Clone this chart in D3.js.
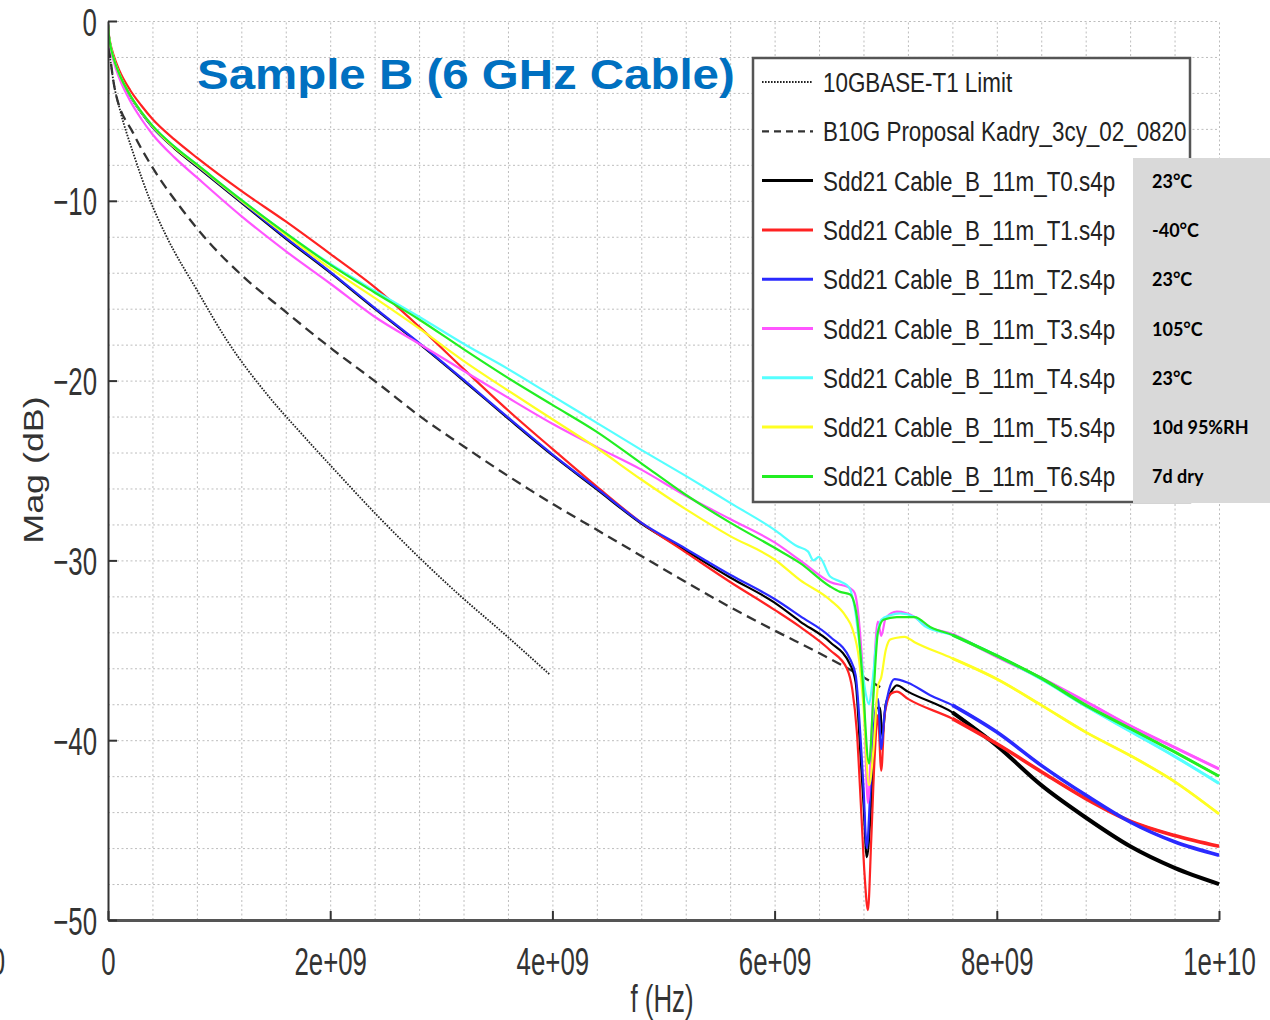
<!DOCTYPE html>
<html>
<head>
<meta charset="utf-8">
<script src="https://cdn.jsdelivr.net/npm/d3@7"></script>
<style>
  body { margin: 0; background: #fff; }
  svg { display: block; font-family: "Liberation Sans", Arial, sans-serif; }
</style>
</head>
<body>
<svg width="1270" height="1020"></svg>
<script>
// frequencies in GHz, magnitudes in dB
var limitT1 = [[0.01,-1.6],[0.05,-3.4],[0.108,-4.95],[0.228,-7.36],[0.378,-9.96],[0.528,-12.0],[0.8,-14.96],[1.068,-17.74],[1.46,-20.98],[1.728,-22.86],[2.0,-24.7],[2.448,-27.66],[2.808,-29.88],[3.18,-32.02],[3.56,-34.05],[3.98,-36.37]];

var proposalB10G = [[0.01,-1.5],[0.063,-3.84],[0.228,-6.25],[0.378,-7.92],[0.648,-10.33],[0.918,-12.37],[1.218,-14.22],[1.578,-16.07],[2.028,-18.3],[2.448,-20.24],[2.8,-21.95],[3.2,-23.65],[3.6,-25.3],[4.0,-26.85],[4.4,-28.3],[4.8,-29.75],[5.2,-31.2],[5.6,-32.6],[6.0,-33.9],[6.4,-35.15],[6.8,-36.5],[6.95,-37.05]];

var cableT0 = [[0,-0.2],[0.005,-0.66],[0.02,-1.32],[0.05,-2.08],[0.1,-2.95],[0.2,-4.17],[0.3,-5.1],[0.4,-5.9],[0.6,-7.1],[0.8,-8.1],[1.2,-10.1],[1.6,-12.1],[2.0,-14.0],[2.4,-16.0],[2.8,-17.95],[3.2,-20.0],[3.6,-22.1],[4.0,-24.15],[4.4,-26.05],[4.8,-27.95],[5.2,-29.45],[5.6,-30.95],[6.0,-32.35],[6.23,-33.4],[6.5,-34.55],[6.68,-35.8],[6.73,-36.8],[6.77,-40.5],[6.8,-43.5],[6.83,-46.5],[6.86,-44.5],[6.89,-40.5],[6.92,-38.2],[6.95,-38.2],[6.97,-39.8],[7.0,-38.0],[7.05,-37.3],[7.1,-36.95],[7.2,-37.3],[7.6,-38.45],[8.0,-40.3],[8.4,-42.5],[8.8,-44.3],[9.2,-45.9],[9.6,-47.1],[10.0,-48.0]];

var cableT1 = [[0,-0.2],[0.005,-0.6],[0.02,-1.2],[0.05,-1.9],[0.1,-2.72],[0.2,-3.85],[0.3,-4.7],[0.4,-5.45],[0.6,-6.6],[0.8,-7.6],[1.2,-9.45],[1.6,-11.15],[2.0,-12.95],[2.4,-14.8],[2.8,-17.0],[3.2,-19.35],[3.6,-21.65],[4.0,-23.8],[4.4,-25.9],[4.8,-27.9],[5.2,-29.55],[5.6,-31.2],[6.0,-32.75],[6.23,-33.7],[6.5,-35.0],[6.65,-36.0],[6.7,-37.2],[6.74,-39.5],[6.78,-44.0],[6.81,-47.5],[6.84,-49.45],[6.87,-45.5],[6.9,-41.0],[6.93,-38.6],[6.96,-41.7],[6.99,-38.6],[7.05,-37.4],[7.1,-37.3],[7.2,-37.7],[7.6,-38.8],[8.0,-40.2],[8.4,-41.75],[8.8,-43.25],[9.2,-44.5],[9.6,-45.3],[10.0,-45.9]];

var cableT2 = [[0,-0.2],[0.005,-0.66],[0.02,-1.32],[0.05,-2.08],[0.1,-2.95],[0.2,-4.17],[0.3,-5.1],[0.4,-5.9],[0.6,-7.05],[0.8,-8.05],[1.2,-10.05],[1.6,-12.05],[2.0,-13.95],[2.4,-15.95],[2.8,-17.9],[3.2,-19.95],[3.6,-22.05],[4.0,-24.1],[4.4,-26.0],[4.8,-27.9],[5.2,-29.35],[5.6,-30.8],[6.0,-32.15],[6.23,-33.1],[6.5,-34.25],[6.68,-35.5],[6.73,-36.4],[6.77,-39.5],[6.8,-42.6],[6.83,-46.0],[6.86,-43.0],[6.89,-39.5],[6.93,-37.7],[6.96,-40.5],[6.99,-38.5],[7.03,-37.2],[7.08,-36.6],[7.2,-36.8],[7.4,-37.5],[7.6,-38.05],[8.0,-39.55],[8.4,-41.4],[8.8,-43.05],[9.2,-44.55],[9.6,-45.65],[10.0,-46.4]];

var cableT3 = [[0,-0.2],[0.005,-0.7],[0.02,-1.41],[0.05,-2.23],[0.1,-3.15],[0.2,-4.45],[0.3,-5.45],[0.4,-6.3],[0.6,-7.6],[0.8,-8.7],[1.2,-10.85],[1.6,-12.8],[2.0,-14.6],[2.4,-16.45],[2.8,-17.95],[3.2,-19.45],[3.6,-20.95],[4.0,-22.4],[4.4,-23.7],[4.8,-24.95],[5.2,-26.4],[5.6,-27.7],[6.0,-29.0],[6.23,-30.0],[6.5,-31.2],[6.68,-31.55],[6.72,-31.8],[6.76,-33.4],[6.8,-37.0],[6.84,-43.5],[6.87,-40.0],[6.9,-35.5],[6.93,-33.4],[6.96,-34.2],[7.0,-33.2],[7.1,-32.85],[7.26,-33.15],[7.35,-33.6],[7.6,-34.1],[8.0,-35.35],[8.4,-36.55],[8.8,-37.85],[9.2,-39.2],[9.6,-40.4],[10.0,-41.6]];

var cableT4 = [[0,-0.2],[0.005,-0.65],[0.02,-1.3],[0.05,-2.06],[0.1,-2.92],[0.2,-4.13],[0.3,-5.05],[0.4,-5.82],[0.6,-7.0],[0.8,-7.98],[1.2,-9.95],[1.6,-11.8],[2.0,-13.5],[2.4,-15.0],[2.8,-16.45],[3.2,-17.95],[3.6,-19.35],[4.0,-20.85],[4.4,-22.35],[4.8,-23.85],[5.2,-25.3],[5.6,-26.8],[6.0,-28.3],[6.2,-29.2],[6.3,-29.5],[6.35,-30.0],[6.4,-29.8],[6.5,-30.9],[6.6,-31.2],[6.67,-31.5],[6.72,-32.6],[6.77,-35.0],[6.82,-37.4],[6.85,-38.0],[6.88,-36.8],[6.92,-34.3],[6.96,-33.3],[7.04,-33.05],[7.13,-32.95],[7.26,-33.15],[7.35,-33.65],[7.6,-34.15],[8.0,-35.3],[8.4,-36.6],[8.8,-38.1],[9.2,-39.5],[9.6,-40.9],[10.0,-42.4]];

var cableT5 = [[0,-0.2],[0.005,-0.65],[0.02,-1.3],[0.05,-2.06],[0.1,-2.92],[0.2,-4.14],[0.3,-5.07],[0.4,-5.85],[0.6,-7.05],[0.8,-8.02],[1.2,-10.0],[1.6,-11.9],[2.0,-13.75],[2.4,-15.4],[2.8,-17.1],[3.2,-18.9],[3.6,-20.55],[4.0,-22.15],[4.4,-23.75],[4.8,-25.5],[5.2,-27.15],[5.6,-28.65],[6.0,-29.95],[6.23,-31.1],[6.5,-32.2],[6.64,-33.1],[6.7,-33.8],[6.76,-35.5],[6.8,-38.1],[6.85,-42.5],[6.89,-40.5],[6.93,-37.0],[6.96,-36.5],[7.0,-35.0],[7.04,-34.4],[7.1,-34.3],[7.17,-34.25],[7.26,-34.55],[7.6,-35.45],[8.0,-36.6],[8.4,-38.05],[8.8,-39.55],[9.2,-40.85],[9.6,-42.3],[10.0,-44.1]];

var cableT6 = [[0,-0.2],[0.005,-0.65],[0.02,-1.3],[0.05,-2.06],[0.1,-2.92],[0.2,-4.13],[0.3,-5.05],[0.4,-5.82],[0.6,-7.0],[0.8,-7.98],[1.2,-9.95],[1.6,-11.8],[2.0,-13.55],[2.4,-15.1],[2.8,-16.6],[3.2,-18.25],[3.6,-19.85],[4.0,-21.35],[4.4,-22.85],[4.8,-24.6],[5.2,-26.35],[5.6,-27.9],[6.0,-29.3],[6.23,-30.15],[6.5,-31.45],[6.59,-31.75],[6.68,-31.9],[6.74,-33.1],[6.79,-36.5],[6.85,-41.3],[6.89,-37.5],[6.93,-34.0],[6.98,-33.3],[7.1,-33.15],[7.26,-33.15],[7.4,-33.7],[7.6,-34.15],[8.0,-35.3],[8.4,-36.55],[8.8,-38.05],[9.2,-39.35],[9.6,-40.65],[10.0,-42.0]];

var legendLabels = ["10GBASE-T1 Limit", "B10G Proposal Kadry_3cy_02_0820",
  "Sdd21 Cable_B_11m_T0.s4p", "Sdd21 Cable_B_11m_T1.s4p", "Sdd21 Cable_B_11m_T2.s4p",
  "Sdd21 Cable_B_11m_T3.s4p", "Sdd21 Cable_B_11m_T4.s4p", "Sdd21 Cable_B_11m_T5.s4p",
  "Sdd21 Cable_B_11m_T6.s4p"];
var conditions = ["23°C", "-40°C", "23°C", "105°C", "23°C", "10d 95%RH", "7d dry"];

var xTicks = [0, 2e9, 4e9, 6e9, 8e9, 1e10];
var yTicks = [-50, -40, -30, -20, -10, 0];

var series = [limitT1, proposalB10G, cableT0, cableT1, cableT2, cableT3, cableT4, cableT5, cableT6];
var styles = [
  {color: "#222", width: 1.8, dash: "1.6,1.4"},
  {color: "#333", width: 2.3, dash: "10,6"},
  {color: "#000", width: 2.2, tail: 4},
  {color: "#ff2222", width: 2.2, tail: 3.6},
  {color: "#2a2aff", width: 2.2, tail: 3.6},
  {color: "#ff55ff", width: 2.2, tail: 3},
  {color: "#55ffff", width: 2.2, tail: 3},
  {color: "#ffff22", width: 2.2, tail: 2.8},
  {color: "#22ee22", width: 2.2, tail: 3}
];

var svg = d3.select("svg");
var plotLeft = 108, plotRight = 1219, plotTop = 21, plotBottom = 920;

var x = d3.scaleLinear().domain([0, 1e10]).range([plotLeft, plotRight]);
var y = d3.scaleLinear().domain([-50, 0]).range([plotBottom, plotTop]);

svg.append("rect").attr("width", 1270).attr("height", 1020).attr("fill", "#fff");

// dotted grid
svg.append("g")
  .attr("transform", "translate(0," + plotBottom + ")")
  .call(d3.axisBottom(x).tickValues(d3.range(0, 1e10 + 1, 4e8)).tickSize(-(plotBottom - plotTop)).tickFormat(""))
  .call(function(g){ g.select(".domain").remove(); })
  .selectAll("line").attr("stroke", "#bdbdbd").attr("stroke-dasharray", "2,2.5");

svg.append("g")
  .attr("transform", "translate(" + plotLeft + ",0)")
  .call(d3.axisLeft(y).tickValues(d3.range(-50, 0.1, 2)).tickSize(-(plotRight - plotLeft)).tickFormat(""))
  .call(function(g){ g.select(".domain").remove(); })
  .selectAll("line").attr("stroke", "#bdbdbd").attr("stroke-dasharray", "2,2.5");

// curves
svg.append("clipPath").attr("id", "plot")
  .append("rect").attr("x", plotLeft).attr("y", plotTop - 2)
  .attr("width", plotRight - plotLeft + 2).attr("height", plotBottom - plotTop + 2);

var line = d3.line()
  .x(function(d){ return x(d[0] * 1e9); })
  .y(function(d){ return y(d[1]); })
  .curve(d3.curveMonotoneX);

var curves = svg.append("g").attr("clip-path", "url(#plot)");

curves.selectAll(".curve")
  .data(series)
  .enter().append("g")
  .attr("class", "curve")
  .each(function(d, i) {
    var s = styles[i];
    var g = d3.select(this);
    g.append("path")
      .attr("d", line(d))
      .attr("fill", "none")
      .attr("stroke", s.color)
      .attr("stroke-width", s.width)
      .attr("stroke-dasharray", s.dash || null)
      .attr("stroke-linejoin", "round");
    // the measured traces get ragged (thicker) at the high end
    if (s.tail) {
      g.append("path")
        .attr("d", line(d.filter(function(p){ return p[0] >= 7.6; })))
        .attr("fill", "none")
        .attr("stroke", s.color)
        .attr("stroke-width", s.tail)
        .attr("stroke-linejoin", "round");
    }
  });

// axes
function sci(v) {
  if (v === 0) return "0";
  var parts = v.toExponential().split("e");
  var e = parseInt(parts[1], 10);
  return parts[0] + "e" + (e < 0 ? "-" : "+") + (Math.abs(e) < 10 ? "0" : "") + Math.abs(e);
}

var xAxis = svg.append("g")
  .attr("transform", "translate(0," + plotBottom + ")")
  .call(d3.axisBottom(x).tickValues(xTicks).tickSizeInner(-9).tickSizeOuter(0).tickFormat(sci));
xAxis.select(".domain").attr("stroke", "#555").attr("stroke-width", 3);
xAxis.selectAll("line").attr("stroke", "#333").attr("stroke-width", 2);
xAxis.selectAll("text")
  .attr("y", 0).attr("dy", 0)
  .attr("transform", "translate(0,55) scale(0.68,1)")
  .attr("font-size", 38).attr("fill", "#333")
  .attr("font-family", "'Liberation Sans', Arial, sans-serif");

var yAxis = svg.append("g")
  .attr("transform", "translate(" + plotLeft + ",0)")
  .call(d3.axisLeft(y).tickValues(yTicks).tickSizeInner(-9).tickSizeOuter(0));
yAxis.select(".domain").attr("stroke", "#333").attr("stroke-width", 2);
yAxis.selectAll("line").attr("stroke", "#333").attr("stroke-width", 2);
yAxis.selectAll("text")
  .attr("x", 0).attr("dy", 0)
  .attr("transform", "translate(-11,14) scale(0.68,1)")
  .attr("font-size", 38).attr("fill", "#333")
  .attr("font-family", "'Liberation Sans', Arial, sans-serif");

// stray clipped tick label at the far left edge
svg.append("text")
  .attr("transform", "translate(-2,975) scale(0.68,1)")
  .attr("text-anchor", "middle").attr("font-size", 38).attr("fill", "#333")
  .text("0");

svg.append("text")
  .attr("transform", "translate(662,1012) scale(0.68,1)")
  .attr("text-anchor", "middle").attr("font-size", 38).attr("fill", "#333")
  .text("f (Hz)");

svg.append("text")
  .attr("transform", "translate(43,470) rotate(-90) scale(1.28,1)")
  .attr("text-anchor", "middle").attr("font-size", 28).attr("fill", "#333")
  .text("Mag (dB)");

// legend
var legend = svg.append("g");
legend.append("rect")
  .attr("x", 753).attr("y", 58).attr("width", 437).attr("height", 444)
  .attr("fill", "#fff").attr("stroke", "#555").attr("stroke-width", 2.5);

var rows = legend.selectAll(".key")
  .data(legendLabels)
  .enter().append("g")
  .attr("class", "key")
  .attr("transform", function(d, i){ return "translate(0," + (82 + 49.3 * i) + ")"; });

rows.append("line")
  .attr("x1", 762).attr("x2", 813).attr("y1", 0).attr("y2", 0)
  .attr("stroke", function(d, i){ return styles[i].color; })
  .attr("stroke-width", function(d, i){ return i < 2 ? styles[i].width : 3; })
  .attr("stroke-dasharray", function(d, i){ return i === 1 ? "7,5" : (styles[i].dash || null); });

rows.append("text")
  .attr("transform", "translate(823,10) scale(0.8,1)")
  .attr("font-size", 28).attr("fill", "#222")
  .text(function(d){ return d; });

// grey condition box
svg.append("rect")
  .attr("x", 1133).attr("y", 158).attr("width", 137).attr("height", 345)
  .attr("fill", "#d9d9d9");

svg.selectAll(".cond")
  .data(conditions)
  .enter().append("text")
  .attr("class", "cond")
  .attr("x", 1152)
  .attr("y", function(d, i){ return 82 + 49.3 * (i + 2) + 7; })
  .attr("font-family", "Lato, 'Open Sans', sans-serif")
  .attr("font-weight", "bold").attr("font-size", 18).attr("fill", "#000")
  .text(function(d){ return d; });

// title
svg.append("text")
  .attr("transform", "translate(197,89) scale(1.13,1)")
  .attr("font-size", 42).attr("font-weight", "bold").attr("fill", "#0070c0")
  .text("Sample B (6 GHz Cable)");
</script>
</body>
</html>
